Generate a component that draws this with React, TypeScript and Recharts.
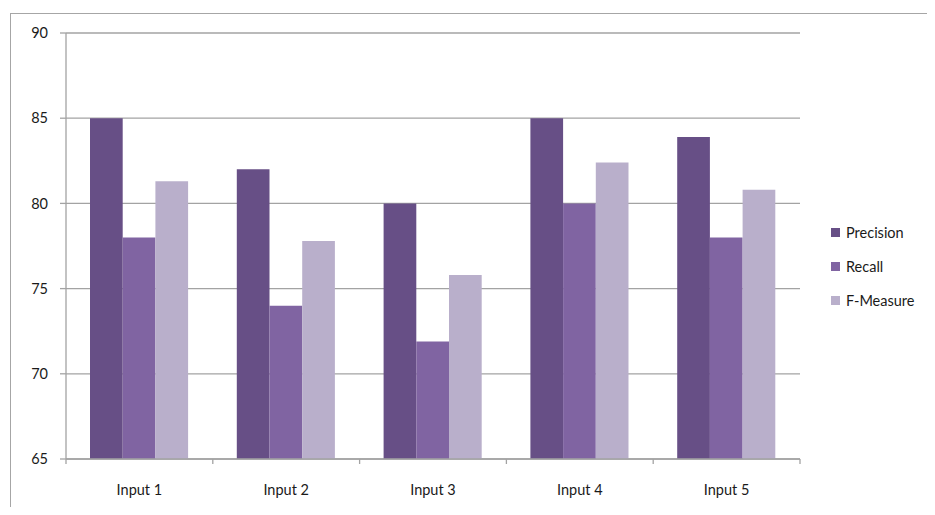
import React from "react";
import { BarChart, Bar, XAxis, YAxis, CartesianGrid } from "recharts";

const categories = ["Input 1", "Input 2", "Input 3", "Input 4", "Input 5"];
const precision = [85, 82, 80, 85, 83.9];
const recall = [78, 74, 71.9, 80, 78];
const fMeasure = [81.3, 77.8, 75.8, 82.4, 80.8];
const yTicks = [65, 70, 75, 80, 85, 90];

const series = [
  { key: "precision", name: "Precision", color: "#674F86" },
  { key: "recall", name: "Recall", color: "#8064A2" },
  { key: "fMeasure", name: "F-Measure", color: "#B9AFCB" },
];

const data = categories.map((name, i) => ({
  name,
  precision: precision[i],
  recall: recall[i],
  fMeasure: fMeasure[i],
}));

const W = 935;
const H = 515;
const PLOT_LEFT = 66;
const PLOT_RIGHT = 800;
const STEP = (PLOT_RIGHT - PLOT_LEFT) / categories.length;
const FONT = "Lato, 'Open Sans', sans-serif";
const GRID = "#a3a3a3";

const XTick = (props: any) => {
  const { x, y, payload, index } = props;
  return (
    <g>
      <line x1={x - STEP / 2} x2={x - STEP / 2} y1={y} y2={y + 5} stroke={GRID} strokeWidth={1.3} />
      {index === categories.length - 1 && (
        <line x1={x + STEP / 2} x2={x + STEP / 2} y1={y} y2={y + 5} stroke={GRID} strokeWidth={1.3} />
      )}
      <text x={x} y={y + 36} textAnchor="middle" fontSize={14.5} fill="#1a1a1a" fontFamily={FONT}>
        {payload.value}
      </text>
    </g>
  );
};

const LegendBox = () => (
  <div
    style={{
      position: "absolute",
      left: 831,
      top: 215,
      fontFamily: FONT,
      fontSize: 14.5,
      color: "#1a1a1a",
    }}
  >
    {series.map((s) => (
      <div key={s.key} style={{ display: "flex", alignItems: "center", height: 34 }}>
        <span style={{ width: 9, height: 9, background: s.color, marginRight: 6, display: "inline-block" }} />
        <span>{s.name}</span>
      </div>
    ))}
  </div>
);

export default function App() {
  return (
    <div style={{ position: "relative", width: W, height: H, margin: -8, background: "#fff" }}>
      <div
        style={{
          position: "absolute",
          left: 10,
          top: 13,
          right: 0,
          bottom: 0,
          borderTop: "1.5px solid #a6a6a6",
          borderLeft: "1.5px solid #a6a6a6",
        }}
      />
      <BarChart
        width={W}
        height={H}
        data={data}
        margin={{ top: 33, right: W - PLOT_RIGHT, left: 10, bottom: 16 }}
        barGap={0}
        barSize={32.7}
        style={{ position: "absolute", left: 0, top: 0 }}
      >
        <CartesianGrid horizontal vertical={false} stroke={GRID} strokeWidth={1.3} />
        <XAxis
          dataKey="name"
          height={40}
          tickLine={false}
          tickSize={0}
          tickMargin={0}
          axisLine={{ stroke: GRID, strokeWidth: 1.3 }}
          tick={<XTick />}
          interval={0}
        />
        <YAxis
          width={56}
          domain={[65, 90]}
          ticks={yTicks}
          allowDataOverflow
          tickSize={6}
          tickMargin={12}
          tickLine={{ stroke: GRID, strokeWidth: 1.3 }}
          axisLine={{ stroke: GRID, strokeWidth: 1.3 }}
          tick={{ fontSize: 14.5, fill: "#1a1a1a", fontFamily: FONT }}
        />
        {series.map((s) => (
          <Bar key={s.key} dataKey={s.key} name={s.name} fill={s.color} isAnimationActive={false} />
        ))}
      </BarChart>
      <LegendBox />
    </div>
  );
}
